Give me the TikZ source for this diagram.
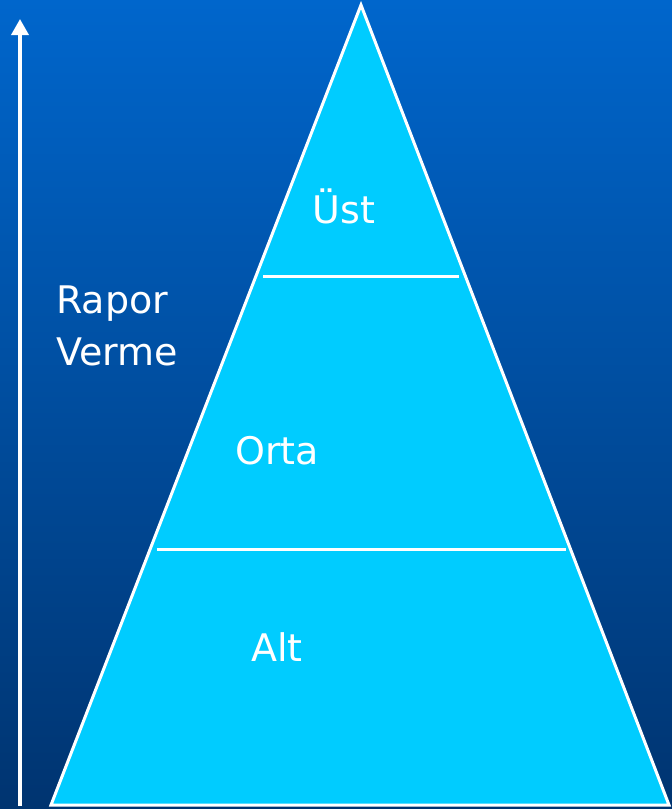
\documentclass[tikz,border=0pt]{standalone}
\usepackage{fontspec}
\setmainfont{DejaVu Sans}
\usetikzlibrary{arrows.meta}
\definecolor{bgtop}{HTML}{0066CC}
\definecolor{bgbottom}{HTML}{003470}
\definecolor{pyramid}{HTML}{00CCFF}
\begin{document}
\begin{tikzpicture}[x=1pt,y=-1pt,
  label/.style={text=white,font=\fontsize{38}{42}\selectfont,inner sep=0pt,anchor=base},
  divider/.style={draw=white,line width=3pt}]
  % background
  \shade[top color=bgtop,bottom color=bgbottom] (0,0) rectangle (672,809);
  \useasboundingbox (0,0) rectangle (672,809);
  % pyramid corners
  \coordinate (apex) at (361,5);
  \coordinate (bl) at (51,805);
  \coordinate (br) at (669,805);
  \fill[pyramid,draw=white,line width=3pt,line join=miter] (apex) -- (br) -- (bl) -- cycle;
  % level dividers
  \coordinate (d1l) at (263,276);
  \coordinate (d1r) at (459,276);
  \coordinate (d2l) at (157,549);
  \coordinate (d2r) at (566,549);
  \draw[divider] (d1l) -- (d1r);
  \draw[divider] (d2l) -- (d2r);
  % level labels
  \node[label] (ust) at (344,223) {Üst};
  \node[label] (orta) at (277,464) {Orta};
  \node[label] (alt) at (277,661) {Alt};
  % reporting direction
  \coordinate (arrowfoot) at (20,806);
  \coordinate (arrowtip) at (20,19);
  \draw[white,line width=3.5pt,-{Triangle[length=16pt,width=17pt]}] (arrowfoot) -- (arrowtip);
  \node[label,anchor=base west] (rapor) at (56,313) {Rapor};
  \node[label,anchor=base west] (verme) at (56,365) {Verme};
\end{tikzpicture}
\end{document}
